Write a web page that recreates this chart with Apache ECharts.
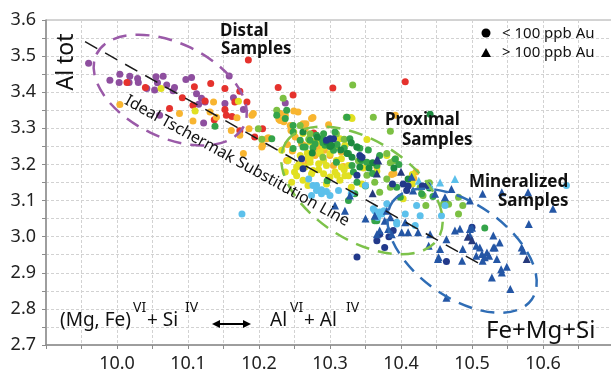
<!DOCTYPE html>
<html>
<head>
<meta charset="utf-8">
<script src="https://cdn.jsdelivr.net/npm/echarts@6/dist/echarts.min.js"></script>
<style>
html, body { margin: 0; padding: 0; background: #fff; }
#chart { width: 611px; height: 373px; }
</style>
</head>
<body>
<div id="chart"></div>
<script>
// axis ranges
var xRange = [9.9, 10.7];
var yRange = [2.7, 3.6];

// sample groups, [Fe+Mg+Si, Al tot]
var purplePts = [[9.96,3.48],[9.99,3.433],[10.004,3.45],[10.003,3.427],[10.018,3.444],[10.029,3.438],[10.03,3.427],
  [10.017,3.427],[10.055,3.443],[10.065,3.444],[10.057,3.426],[10.07,3.42],[10.081,3.413],[10.079,3.404],[10.053,3.406],
  [10.097,3.435],[10.105,3.441],[10.112,3.396],[10.119,3.383],[10.115,3.367],[10.122,3.315],[10.06,3.336],[10.124,3.373],
  [10.158,3.445],[10.152,3.369],[10.164,3.385],[10.178,3.352],[10.237,3.37],[10.042,3.41]];
var redPts = [[10.185,3.489],[10.014,3.427],[10.04,3.413],[10.074,3.355],[10.092,3.385],[10.107,3.364],[10.109,3.415],
  [10.132,3.424],[10.152,3.41],[10.173,3.403],[10.152,3.352],[10.154,3.336],[10.162,3.333],[10.166,3.373],[10.183,3.373],
  [10.137,3.324],[10.173,3.293],[10.194,3.276],[10.205,3.299],[10.227,3.413],[10.248,3.392],[10.277,3.287],[10.304,3.412],
  [10.406,3.429],[10.124,3.376]];
var orangePts = [[10.004,3.366],[10.088,3.341],[10.107,3.32],[10.136,3.373],[10.131,3.345],[10.14,3.331],[10.169,3.329],
  [10.19,3.336],[10.186,3.299],[10.161,3.294],[10.178,3.23],[10.204,3.248],[10.213,3.274],[10.226,3.336],[10.237,3.336],
  [10.244,3.308],[10.255,3.345],[10.276,3.33],[10.239,3.211],[10.26,3.257],[10.269,3.209],[10.192,3.341],[10.173,3.281],
  [10.23,3.341],[10.235,3.318],[10.245,3.294],[10.266,3.313],[10.247,3.237],[10.263,3.253],[10.286,3.25],[10.298,3.31],
  [10.316,3.234],[10.421,3.179],[10.392,3.336],[10.366,3.202],[10.262,3.197],[10.305,3.197],[10.319,3.194],[10.387,3.172],
  [10.228,3.325],[10.249,3.348],[10.281,3.244],[10.292,3.239],[10.24,3.255],[10.23,3.322],[10.274,3.327],[10.262,3.313],
  [10.265,3.299],[10.251,3.276],[10.3,3.225],[10.279,3.225],[10.211,3.271],[10.205,3.253],[10.366,3.193],[10.418,3.161],
  [10.39,3.175]];
var yellowPts = [[10.062,3.41],[10.11,3.348],[10.171,3.375],[10.237,3.179],[10.25,3.179],[10.262,3.156],[10.274,3.174],
  [10.284,3.185],[10.291,3.174],[10.3,3.165],[10.295,3.146],[10.314,3.156],[10.326,3.169],[10.33,3.137],[10.345,3.146],
  [10.232,3.239],[10.241,3.211],[10.253,3.193],[10.276,3.183],[10.272,3.216],[10.291,3.211],[10.286,3.23],[10.33,3.33],
  [10.352,3.269],[10.309,3.211],[10.38,3.225],[10.366,3.181],[10.403,3.105],[10.416,3.146],[10.249,3.29],[10.262,3.286],
  [10.258,3.225],[10.28,3.265],[10.3,3.23],[10.32,3.185],[10.31,3.17],[10.256,3.2],[10.268,3.232],[10.308,3.25],
  [10.272,3.262],[10.284,3.262],[10.291,3.248],[10.286,3.234],[10.269,3.22],[10.272,3.206],[10.284,3.202],[10.265,3.193],
  [10.295,3.197],[10.316,3.216],[10.326,3.197],[10.316,3.193],[10.307,3.179],[10.321,3.169],[10.253,3.169],[10.246,3.151],
  [10.269,3.142],[10.314,3.271],[10.321,3.253],[10.331,3.327],[10.345,3.213],[10.347,3.19],[10.392,3.215],[10.416,3.172]];
var lightGreenPts = [[10.234,3.383],[10.199,3.299],[10.204,3.27],[10.225,3.35],[10.258,3.308],[10.272,3.285],[10.332,3.42],
  [10.361,3.331],[10.385,3.292],[10.323,3.331],[10.309,3.285],[10.352,3.17],[10.363,3.151],[10.37,3.123],[10.385,3.137],
  [10.38,3.23],[10.39,3.21],[10.38,3.16],[10.431,3.114],[10.427,3.136],[10.481,3.109],[10.487,3.086],[10.481,3.063],
  [10.467,3.09],[10.46,3.091],[10.435,3.086],[10.32,3.27],[10.29,3.22],[10.34,3.21],[10.27,3.27],[10.385,3.205],[10.44,3.149]];
var greenPts = [[10.138,3.306],[10.225,3.336],[10.239,3.35],[10.258,3.267],[10.272,3.267],[10.281,3.281],[10.291,3.285],
  [10.276,3.246],[10.293,3.253],[10.218,3.271],[10.265,3.248],[10.279,3.257],[10.248,3.244],[10.29,3.26],[10.305,3.239],
  [10.326,3.23],[10.338,3.248],[10.345,3.211],[10.331,3.197],[10.366,3.197],[10.37,3.225],[10.326,3.1],[10.335,3.119],
  [10.366,3.044],[10.394,3.137],[10.399,3.109],[10.429,3.119],[10.445,3.111],[10.363,3.044],[10.518,3.024],[10.3,3.27],
  [10.31,3.255],[10.32,3.245],[10.354,3.24],[10.36,3.175],[10.296,3.155],[10.237,3.327],[10.248,3.308],[10.248,3.29],
  [10.262,3.248],[10.288,3.271],[10.309,3.206],[10.333,3.179],[10.338,3.151],[10.328,3.271],[10.307,3.29],[10.324,3.331],
  [10.352,3.206],[10.342,3.245],[10.392,3.215],[10.397,3.2],[10.35,3.14]];
var darkGreenPts = [[10.282,3.275],[10.3,3.25],[10.315,3.24],[10.33,3.26],[10.262,3.29],[10.355,3.19],[10.41,3.16],
  [10.39,3.19],[10.44,3.135],[10.441,3.339],[10.343,3.215],[10.275,3.232],[10.295,3.262],[10.302,3.253],[10.324,3.23],
  [10.331,3.22],[10.342,3.193],[10.338,3.248],[10.36,3.205]];
var lightBluePts = [[10.176,3.063],[10.281,3.128],[10.288,3.119],[10.274,3.114],[10.295,3.125],[10.312,3.128],[10.3,3.114],
  [10.361,3.077],[10.37,3.068],[10.394,3.04],[10.363,3.072],[10.373,3.063],[10.38,3.091],[10.394,3.035],[10.406,3.063],
  [10.422,3.086],[10.427,3.058],[10.457,3.058],[10.462,3.086],[10.633,3.142],[10.367,3.053],[10.376,3.072],[10.42,3.031],
  [10.276,3.142],[10.27,3.16],[10.33,3.12],[10.281,3.142],[10.288,3.13],[10.35,3.142]];
var lightBlueTri = [[10.476,3.16],[10.441,3.142],[10.455,3.15],[10.425,3.155]];
var navyPts = [[10.338,2.944],[10.366,2.989],[10.464,2.931],[10.437,3.142],[10.403,3.146],[10.388,3.146],[10.408,3.128],
  [10.37,3.007],[10.377,2.97],[10.389,3.017],[10.342,3.225],[10.338,3.17],[10.41,3.14],[10.305,3.271],[10.262,3.188],
  [10.295,3.267],[10.383,3.0],[10.5,3.026],[10.345,3.22],[10.3,3.271],[10.26,3.216],[10.43,3.14]];
var blueTri = [[10.328,3.114],[10.366,3.007],[10.382,3.021],[10.401,3.012],[10.41,3.012],[10.424,3.012],[10.439,2.975],
  [10.453,2.943],[10.464,2.993],[10.476,3.017],[10.486,2.933],[10.487,2.966],[10.497,3.003],[10.5,3.025],[10.506,2.947],
  [10.511,2.97],[10.514,2.952],[10.518,2.943],[10.521,2.956],[10.528,2.887],[10.542,2.901],[10.53,3.003],[10.539,2.984],
  [10.549,2.917],[10.554,2.855],[10.572,2.961],[10.58,3.035],[10.464,2.831],[10.471,3.132],[10.497,3.1],[10.579,3.123],
  [10.614,3.077],[10.515,3.119],[10.542,3.123],[10.506,2.975],[10.53,2.97],[10.57,2.97],[10.515,2.933],[10.541,2.91],
  [10.406,3.04],[10.441,3.007],[10.455,2.966],[10.452,2.938],[10.483,3.022],[10.497,3.021],[10.524,2.947],[10.535,2.938],
  [10.532,2.97],[10.385,3.054],[10.387,3.007],[10.417,3.128],[10.448,3.119],[10.462,3.109],[10.307,3.086],[10.321,3.072],
  [10.363,3.058],[10.377,3.044],[10.38,3.072],[10.37,3.017],[10.35,3.05],[10.415,3.166]];
var navyTri = [[10.494,3.0],[10.5,2.99],[10.577,2.938],[10.366,3.214],[10.368,3.211],[10.36,3.12],[10.4,3.18],
  [10.366,3.175]];

// ideal Tschermak substitution line
var lineX = [9.955, 10.515];
var lineY = [3.54, 2.92];

var FONT = '"Noto Sans", sans-serif';
var chart = echarts.init(document.getElementById('chart'));

function pts(data, color, symbol){
	return {
		type: 'scatter',
		data: data,
		symbol: symbol || 'circle',
		symbolSize: symbol === 'triangle' ? 8 : 7,
		itemStyle: {color: color, opacity: 1},
		silent: true
	};
}

function axis(range, isX){
	return {
		type: 'value',
		min: range[0],
		max: range[1],
		interval: 0.1,
		axisLine: {show: true, lineStyle: {color: '#8c8c8c', width: 1.5}},
		axisTick: {show: true, length: 4, lineStyle: {color: '#8c8c8c'}},
		minorTick: {show: true, splitNumber: 2, length: 4, lineStyle: {color: '#8c8c8c'}},
		splitLine: {show: true, lineStyle: {color: '#d2d2d2', type: [3, 2]}},
		minorSplitLine: {show: true, lineStyle: {color: '#d2d2d2', type: [3, 2]}},
		axisLabel: {
			fontSize: 18, color: '#222', fontFamily: FONT, margin: 10,
			showMinLabel: !isX,
			formatter: function(v){ return (isX && (v < 9.95 || v > 10.65)) ? '' : v.toFixed(1); }
		}
	};
}

chart.setOption({
	animation: false,
	grid: {left: 46, top: 20, right: -3, bottom: 28, show: true, borderColor: '#a8a8a8', borderWidth: 1,
		containLabel: false, outerBoundsMode: 'none'},
	xAxis: axis(xRange, true),
	yAxis: axis(yRange, false),
	series: [
		pts(purplePts, '#8e4f9f'),
		pts(redPts, '#e5322d'),
		pts(orangePts, '#f8b530'),
		pts(yellowPts, '#e1e022'),
		pts(lightGreenPts, '#7cc043'),
		pts(greenPts, '#34a44a'),
		pts(darkGreenPts, '#1c8a3f'),
		pts(lightBluePts, '#5cc0eb'),
		pts(lightBlueTri, '#5cc0eb', 'triangle'),
		pts(navyPts, '#22398a'),
		pts(blueTri, '#2456a5', 'triangle'),
		pts(navyTri, '#263a7c', 'triangle'),
		{
			type: 'line',
			data: lineX.map(function(x, i){ return [x, lineY[i]]; }),
			symbol: 'none',
			silent: true,
			z: 5,
			lineStyle: {color: '#1a1a1a', width: 1.5, type: [14, 9]}
		}
	]
});

// dashed group ellipses: centre in data units, radii in px, tilt in radians
var ellipses = [
	{c: [10.075, 3.406], rx: 82, ry: 47, tilt: 0.45, color: '#9a5aa8'},
	{c: [10.345, 3.128], rx: 90, ry: 50, tilt: 0.56, color: '#7dc24a'},
	{c: [10.486, 2.961], rx: 85, ry: 47, tilt: 0.61, color: '#2f6db5'}
];

function txt(x, y, text, size, opts){
	opts = opts || {};
	return {
		type: 'text', x: x, y: y, rotation: opts.rot || 0, silent: true, z: 10,
		style: {
			text: text, fill: '#111',
			font: (opts.bold ? 'bold ' : '') + size + 'px ' + FONT,
			textAlign: opts.align || 'left', textVerticalAlign: 'middle'
		}
	};
}

var graphics = ellipses.map(function(e){
	var p = chart.convertToPixel({gridIndex: 0}, e.c);
	return {
		type: 'ellipse', x: p[0], y: p[1], rotation: -e.tilt, silent: true, z: 8,
		shape: {cx: 0, cy: 0, rx: e.rx, ry: e.ry},
		style: {fill: 'none', stroke: e.color, lineWidth: 2.5, lineDash: [14, 9]}
	};
});

graphics.push(
	txt(220, 31, 'Distal', 17, {bold: true}),
	txt(221, 49, 'Samples', 17, {bold: true}),
	txt(385, 120, 'Proximal', 17, {bold: true}),
	txt(402, 140, 'Samples', 17, {bold: true}),
	txt(469, 182, 'Mineralized', 17, {bold: true}),
	txt(498, 201, 'Samples', 17, {bold: true}),
	txt(66, 62, 'Al tot', 23, {rot: Math.PI / 2, align: 'center'}),
	txt(237, 161, 'Ideal Tschermak Substitution Line', 16, {rot: -0.505, align: 'center'}),
	txt(486, 331, 'Fe+Mg+Si', 24),
	txt(502, 34, '< 100 ppb Au', 15),
	txt(502, 53, '> 100 ppb Au', 15),
	txt(60, 321, '(Mg, Fe)', 19),
	txt(133, 308, 'VI', 14),
	txt(147, 321, '+ Si', 19),
	txt(185, 308, 'IV', 14),
	txt(270, 321, 'Al', 19),
	txt(290, 308, 'VI', 14),
	txt(304, 321, '+ Al', 19),
	txt(346, 308, 'IV', 14),
	{type: 'circle', silent: true, shape: {cx: 486, cy: 33, r: 4.5}, style: {fill: '#000'}},
	{type: 'polygon', silent: true, shape: {points: [[486, 48], [491, 57], [481, 57]]}, style: {fill: '#000'}},
	{type: 'line', silent: true, shape: {x1: 218, y1: 324, x2: 245, y2: 324}, style: {stroke: '#000', lineWidth: 2}},
	{type: 'polygon', silent: true, shape: {points: [[212, 324], [220, 320], [220, 328]]}, style: {fill: '#000'}},
	{type: 'polygon', silent: true, shape: {points: [[251, 324], [243, 320], [243, 328]]}, style: {fill: '#000'}}
);

chart.setOption({graphic: graphics});
</script>
</body>
</html>
